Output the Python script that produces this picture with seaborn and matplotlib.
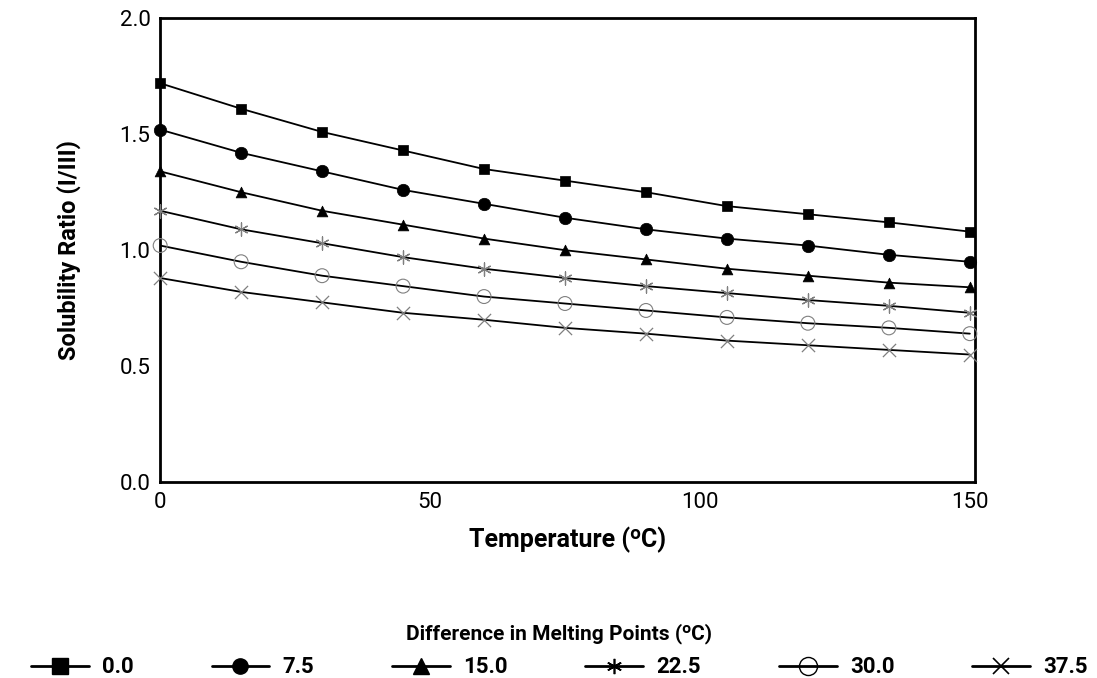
import pandas as pd
import matplotlib.pyplot as plt
import seaborn as sns
from matplotlib.lines import Line2D

temperature = [0, 15, 30, 45, 60, 75, 90, 105, 120, 135, 150]
dmp_labels = ['0.0', '7.5', '15.0', '22.5', '30.0', '37.5']
ratio_0_0 = [1.72, 1.61, 1.51, 1.43, 1.35, 1.30, 1.25, 1.19, 1.155, 1.12, 1.08]
ratio_7_5 = [1.52, 1.42, 1.34, 1.26, 1.20, 1.14, 1.09, 1.05, 1.02, 0.98, 0.95]
ratio_15_0 = [1.34, 1.25, 1.17, 1.11, 1.05, 1.00, 0.96, 0.92, 0.89, 0.86, 0.84]
ratio_22_5 = [1.17, 1.09, 1.03, 0.97, 0.92, 0.88, 0.845, 0.815, 0.785, 0.76, 0.73]
ratio_30_0 = [1.02, 0.95, 0.89, 0.845, 0.80, 0.77, 0.74, 0.71, 0.685, 0.665, 0.64]
ratio_37_5 = [0.88, 0.82, 0.775, 0.73, 0.70, 0.665, 0.64, 0.61, 0.59, 0.57, 0.55]
all_ratios = [ratio_0_0, ratio_7_5, ratio_15_0, ratio_22_5, ratio_30_0, ratio_37_5]

rows = []
for lab, vals in zip(dmp_labels, all_ratios):
    for t, v in zip(temperature, vals):
        rows.append({'Temperature': t, 'Ratio': v, 'DMP': lab})
df = pd.DataFrame(rows)

markers = ['s', 'o', '^', (6, 2, 0), 'o', 'x']
mcolors = ['black', 'black', 'black', '#7f7f7f', '#7f7f7f', '#7f7f7f']
filled = [True, True, True, False, False, False]
msizes = [55, 80, 60, 90, 100, 90]

sns.set_theme(style='white')
plt.rcParams['font.family'] = ['Roboto', 'DejaVu Sans']
plt.rcParams['text.color'] = 'black'
plt.rcParams['axes.labelcolor'] = 'black'
plt.rcParams['xtick.color'] = 'black'
plt.rcParams['ytick.color'] = 'black'

fig = plt.figure(figsize=(10.97, 6.78), dpi=100)
ax = fig.add_axes([0.146, 0.289, 0.743, 0.684])

# lines
sns.lineplot(data=df, x='Temperature', y='Ratio', units='DMP', estimator=None,
             color='black', linewidth=1.3, legend=False, ax=ax)

# markers
for lab, m, c, f, s in zip(dmp_labels, markers, mcolors, filled, msizes):
    sub = df[df['DMP'] == lab]
    if f:
        sns.scatterplot(data=sub, x='Temperature', y='Ratio', marker=m, color=c,
                        s=s, edgecolor=c, linewidth=0.5, zorder=3, legend=False,
                        clip_on=False, ax=ax)
    elif m == 'o':
        ax.scatter(sub['Temperature'], sub['Ratio'], marker='o', s=s,
                   facecolors='none', edgecolors=c, linewidths=0.8, zorder=3, clip_on=False)
    else:
        ax.scatter(sub['Temperature'], sub['Ratio'], marker=m, s=s,
                   color=c, linewidths=0.9, zorder=3, clip_on=False)

ax.set_xlim(0, 151)
ax.set_ylim(0, 2.0)
ax.set_xticks([0, 50, 100, 150])
ax.set_yticks([0.0, 0.5, 1.0, 1.5, 2.0])
ax.set_yticklabels(['0.0', '0.5', '1.0', '1.5', '2.0'])
ax.tick_params(axis='both', labelsize=16, length=0, pad=7)
for sp in ax.spines.values():
    sp.set_visible(True)
    sp.set_color('black')
    sp.set_linewidth(2)

ax.set_xlabel('Temperature (ᵒC)', fontsize=18, fontweight='bold', labelpad=10)
ax.set_ylabel('Solubility Ratio (I/III)', fontsize=17, fontweight='bold', labelpad=28)

handles = []
for m, f in zip(markers, filled):
    if f:
        h = Line2D([], [], color='black', marker=m, markersize=11, linewidth=2)
    elif m == 'o':
        h = Line2D([], [], color='black', marker='o', markersize=13, markerfacecolor='none',
                   markeredgewidth=1, linewidth=2)
    else:
        h = Line2D([], [], color='black', marker=m, markersize=11, markeredgewidth=1.2, linewidth=2)
    handles.append(h)

leg = fig.legend(handles, dmp_labels, loc='lower center', bbox_to_anchor=(0.51, -0.03),
                 ncol=6, frameon=False, fontsize=16, handlelength=2.6, columnspacing=3.5,
                 handletextpad=0.6,
                 title='Difference in Melting Points (ᵒC)',
                 title_fontproperties={'weight': 'bold', 'size': 15})
leg._legend_box.sep = 9
for t in leg.get_texts():
    t.set_fontweight('bold')

fig.savefig('out.png', dpi=100)
